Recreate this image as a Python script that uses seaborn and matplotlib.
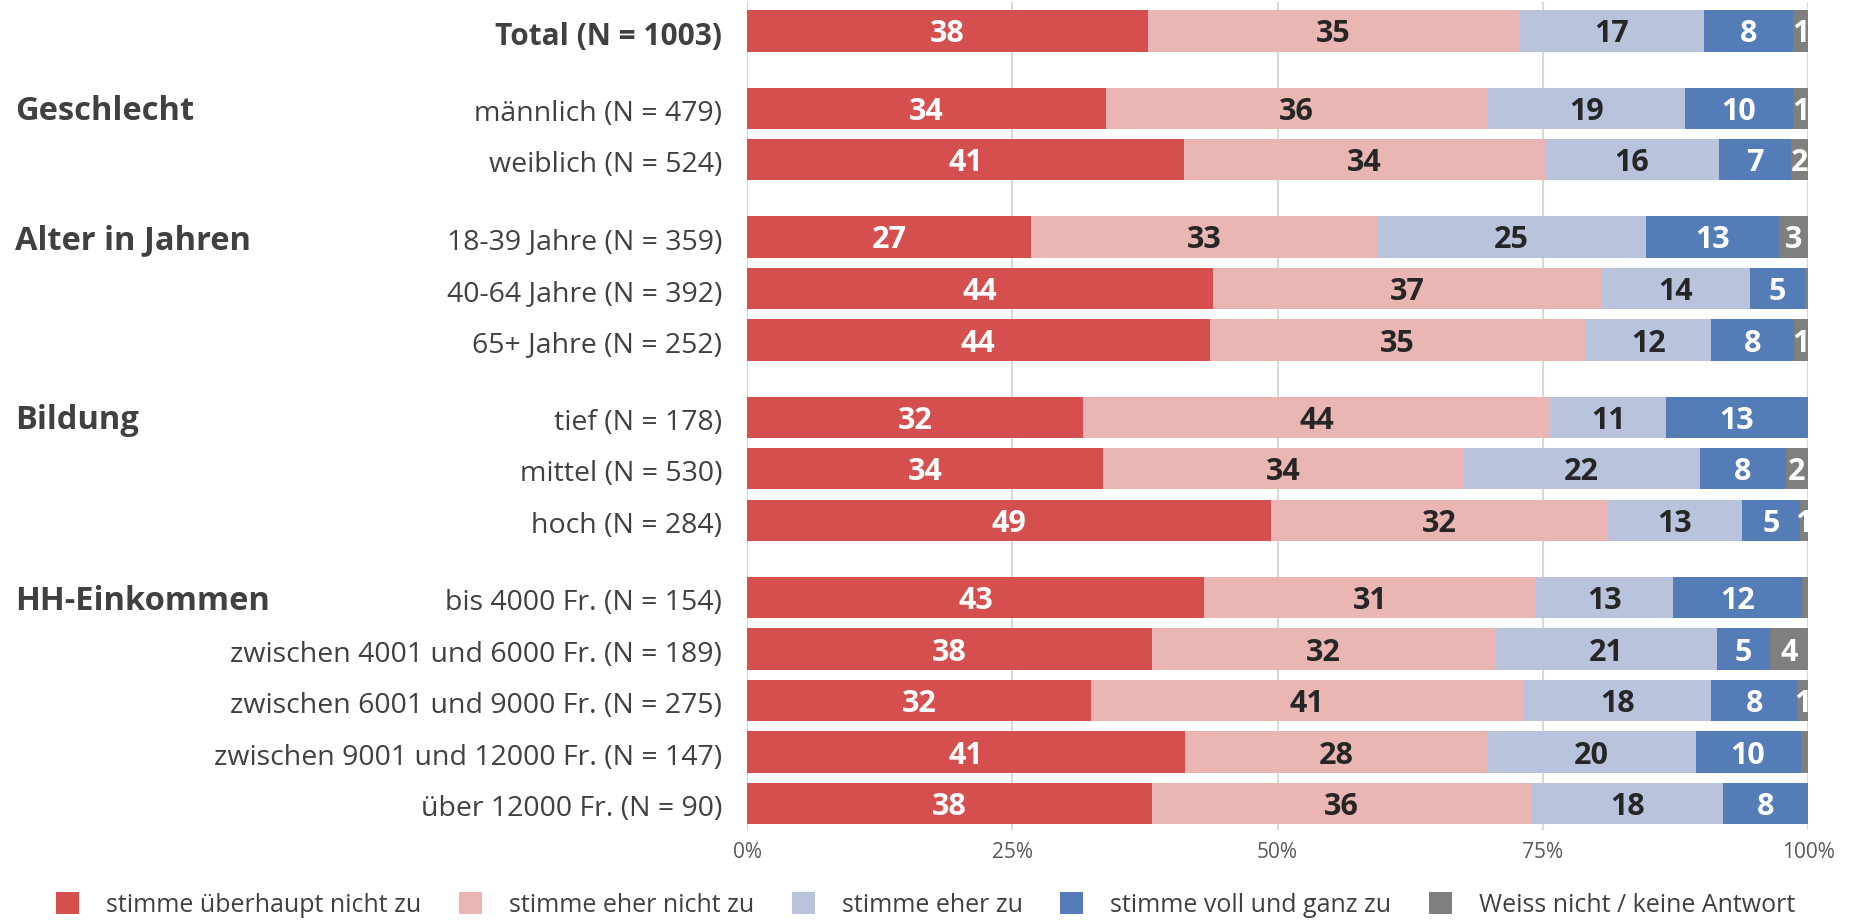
import numpy as np
import pandas as pd
import matplotlib
matplotlib.use("Agg")
import matplotlib.pyplot as plt
import matplotlib.transforms as mtransforms
from matplotlib.patches import Patch
import seaborn as sns

# ---- data -------------------------------------------------------------
row_labels = [
    "Total (N = 1003)",
    "männlich (N = 479)",
    "weiblich (N = 524)",
    "18-39 Jahre (N = 359)",
    "40-64 Jahre (N = 392)",
    "65+ Jahre (N = 252)",
    "tief (N = 178)",
    "mittel (N = 530)",
    "hoch (N = 284)",
    "bis 4000 Fr. (N = 154)",
    "zwischen 4001 und 6000 Fr. (N = 189)",
    "zwischen 6001 und 9000 Fr. (N = 275)",
    "zwischen 9001 und 12000 Fr. (N = 147)",
    "über 12000 Fr. (N = 90)",
]
group_titles = ["Geschlecht", "Alter in Jahren", "Bildung", "HH-Einkommen"]
group_sizes = [2, 3, 3, 5]

responses = [
    "stimme überhaupt nicht zu",
    "stimme eher nicht zu",
    "stimme eher zu",
    "stimme voll und ganz zu",
    "Weiss nicht / keine Antwort",
]

ueberhaupt_nicht = [37.8, 33.8, 41.2, 26.8, 43.9, 43.6, 31.7, 33.6, 49.4, 43.1, 38.2, 32.4, 41.3, 38.2]
eher_nicht = [35.0, 36.0, 34.0, 32.6, 36.7, 35.4, 44.0, 33.9, 31.7, 31.2, 32.3, 40.8, 28.4, 35.7]
eher_zu = [17.4, 18.6, 16.4, 25.3, 13.9, 11.9, 10.9, 22.3, 12.7, 13.0, 20.9, 17.7, 19.7, 18.1]
voll_zu = [8.4, 10.2, 6.8, 12.6, 5.2, 7.8, 13.4, 8.1, 5.4, 12.1, 5.0, 8.1, 9.9, 8.0]
weiss_nicht = [1.4, 1.4, 1.6, 2.7, 0.3, 1.3, 0.0, 2.1, 0.8, 0.6, 3.6, 1.0, 0.7, 0.0]

x_ticks = [0, 25, 50, 75, 100]
x_tick_labels = ["0%", "25%", "50%", "75%", "100%"]

# ---- styling ----------------------------------------------------------
colors = ["#D64F4F", "#EAB6B3", "#B9C3DC", "#547DB8", "#7F7F7F"]
label_colors = ["white", "#262626", "#262626", "white", "white"]
text_color = "#404040"

sns.set_theme(style="white")
plt.rcParams["font.family"] = ["Open Sans", "DejaVu Sans"]

# row positions: a half-row gap separates each group
ypos = [0.0]
cur = 0.0
for n in group_sizes:
    cur += 1.5
    for k in range(n):
        ypos.append(cur + k)
    cur += n - 1
ypos = np.array(ypos)

values = np.array([ueberhaupt_nicht, eher_nicht, eher_zu, voll_zu, weiss_nicht])
cum = np.cumsum(values, axis=0)

W, H = 1851, 921
fig = plt.figure(figsize=(W / 100, H / 100), dpi=100)
ax = fig.add_axes([747 / W, 1 - 830 / H, (1808 - 747) / W, (830 - 2) / H])


def shift_down(points):
    return mtransforms.ScaledTranslation(0, -points / 72, fig.dpi_scale_trans)


# stacked bars: draw cumulative totals from the longest to the shortest
for i in reversed(range(len(responses))):
    df = pd.DataFrame({"wert": cum[i], "pos": ypos})
    sns.barplot(data=df, x="wert", y="pos", orient="y", native_scale=True,
                color=colors[i], saturation=1, width=0.8, linewidth=0,
                errorbar=None, ax=ax, zorder=2)

# value labels
for i in range(len(responses)):
    for r, pos in enumerate(ypos):
        v = values[i, r]
        if v < 0.75:
            continue
        center = cum[i, r] - v / 2
        ax.text(center, pos, f"{round(v)}", ha="center", va="center",
                fontsize=22, fontweight="bold", color=label_colors[i],
                clip_on=True, zorder=3,
                transform=ax.transData + shift_down(2.5))

ax.set_xlim(0, 100)
ax.set_ylim(ypos[-1] + 0.513, -0.563)
ax.set_xticks(x_ticks)
ax.set_xticklabels(x_tick_labels)
ax.set_yticks(ypos)
ax.set_yticklabels(row_labels)
ax.set_xlabel("")
ax.set_ylabel("")
ax.grid(axis="x", color="#D9D9D9", linewidth=1.5)
ax.grid(axis="y", visible=False)
ax.set_axisbelow(True)
for s in ax.spines.values():
    s.set_visible(False)
ax.tick_params(axis="x", length=0, pad=9, labelsize=15, labelcolor="#595959")
ax.tick_params(axis="y", length=0, pad=18, labelsize=20.5, labelcolor=text_color)
for lab in ax.get_yticklabels():
    lab.set_transform(lab.get_transform() + shift_down(1.5))
total_lab = ax.get_yticklabels()[0]
total_lab.set_fontweight("bold")
total_lab.set_fontsize(21.5)

# group headings on the left margin
trans = mtransforms.blended_transform_factory(fig.transFigure, ax.transData)
start = 1
for title, n in zip(group_titles, group_sizes):
    fig.text(15 / W, ypos[start], title, transform=trans + shift_down(2.5),
             ha="left", va="center", fontsize=23.5, fontweight="bold",
             color=text_color)
    start += n

handles = [Patch(facecolor=c, edgecolor="none") for c in colors]
fig.legend(handles, responses, loc="center", bbox_to_anchor=(0.5, 1 - 905 / H),
           ncol=5, frameon=False, fontsize=18, handlelength=0.92,
           handleheight=0.92, handletextpad=1.08, columnspacing=1.5,
           labelcolor=text_color)

fig.savefig("out.png", dpi=100)
